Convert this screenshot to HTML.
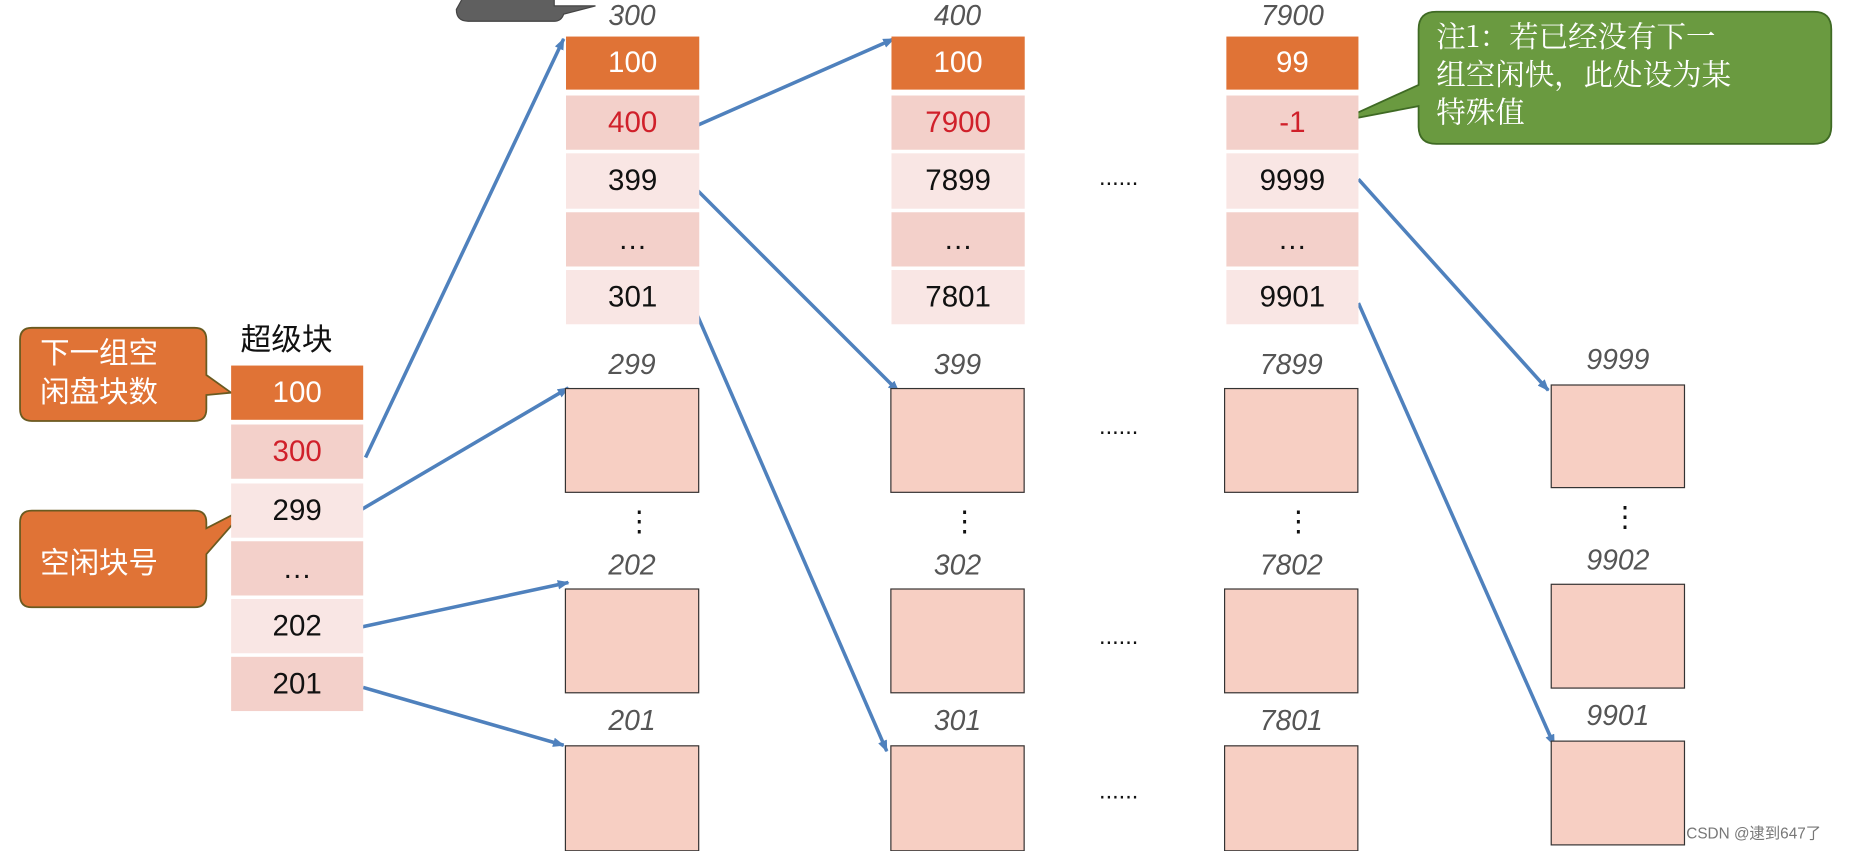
<!DOCTYPE html>
<html><head><meta charset="utf-8"><style>
html,body{margin:0;padding:0;background:#fff;width:1849px;height:849px;overflow:hidden}
#w{position:absolute;left:0;top:0;width:1568px;height:720px;transform:scale(1.1792);transform-origin:0 0;font-family:"Liberation Sans","Noto Sans CJK SC",sans-serif}
.c{position:absolute;display:flex;align-items:center;justify-content:center;font-size:25px;color:#111}
.o{background:#e07336;color:#fff}
.d{background:#f3d0ca}
.l{background:#f9e6e4}
.r{color:#d0202a}
.h{position:absolute;font-style:italic;font-size:24px;color:#555;text-align:center;width:114px}
.b{position:absolute;background:#f7cfc3;border:1.5px solid #333;box-sizing:border-box}
.t{position:absolute;font-size:24px;color:#111}
</style></head><body><div id="w">
<svg width="1568" height="720" style="position:absolute;left:0;top:0">
<defs><marker id="a" markerWidth="10" markerHeight="8" refX="9" refY="4" orient="auto" markerUnits="userSpaceOnUse"><path d="M0,0L10,4L0,8z" fill="#4f81bd"/></marker></defs>
<g stroke="#4f81bd" stroke-width="3" fill="none" marker-end="url(#a)">
<line x1="310" y1="388" x2="478" y2="33"/>
<line x1="305" y1="433" x2="482" y2="329"/>
<line x1="305" y1="532" x2="482" y2="494"/>
<line x1="308" y1="583" x2="478" y2="632"/>
<line x1="592" y1="106" x2="758" y2="33"/>
<line x1="590" y1="160" x2="762" y2="332"/>
<line x1="586" y1="255" x2="752" y2="637"/>
<line x1="1152" y1="152" x2="1313" y2="331"/>
<line x1="1152" y1="257" x2="1318" y2="632"/>
</g>
<path d="M397,-10H470V5L505,5L478,12Q476,18 470,18H397Q387,18 387,8Z" fill="#5f5f5f" stroke="#444"/>
<path d="M27,278H165Q175,278 175,288V318L196,333L175,335V347Q175,357 165,357H27Q17,357 17,347V288Q17,278 27,278Z" fill="#e07336" stroke="#6a5a20" stroke-width="1.5"/>
<path d="M27,433H165Q175,433 175,443V448L210,430L175,470V505Q175,515 165,515H27Q17,515 17,505V443Q17,433 27,433Z" fill="#e07336" stroke="#6a5a20" stroke-width="1.5"/>
<path d="M1218,10H1538Q1553,10 1553,25V107Q1553,122 1538,122H1218Q1203,122 1203,107V90L1135,103L1203,72V25Q1203,10 1218,10Z" fill="#6a9a40" stroke="#3f6a24" stroke-width="1.5"/>
</svg>
<div class="t" style="left:34px;top:284px;color:#fff;line-height:33px;font-size:25px">下一组空<br>闲盘块数</div>
<div class="t" style="left:34px;top:458px;color:#fff;font-size:25px">空闲块号</div>
<div class="t" style="left:1218px;top:14px;color:#fff;line-height:32px;font-size:25px;font-family:'Noto Serif CJK SC','Liberation Serif',serif">注1：若已经没有下一<br>组空闲快，此处设为某<br>特殊值</div>
<div class="t" style="left:204px;top:268px;font-size:26px">超级块</div>

<div class="c o" style="left:196px;top:310px;width:112px;height:46px">100</div>
<div class="c d r" style="left:196px;top:360px;width:112px;height:46px">300</div>
<div class="c l" style="left:196px;top:410px;width:112px;height:46px">299</div>
<div class="c d" style="left:196px;top:459px;width:112px;height:46px">…</div>
<div class="c l" style="left:196px;top:508px;width:112px;height:46px">202</div>
<div class="c d" style="left:196px;top:557px;width:112px;height:46px">201</div>

<div class="h" style="left:479px;top:0px">300</div>
<div class="c o" style="left:480px;top:31px;width:113px;height:45px">100</div>
<div class="c d r" style="left:480px;top:81px;width:113px;height:46px">400</div>
<div class="c l" style="left:480px;top:130px;width:113px;height:47px">399</div>
<div class="c d" style="left:480px;top:180px;width:113px;height:46px">…</div>
<div class="c l" style="left:480px;top:229px;width:113px;height:46px">301</div>

<div class="h" style="left:755px;top:0px">400</div>
<div class="c o" style="left:756px;top:31px;width:113px;height:45px">100</div>
<div class="c d r" style="left:756px;top:81px;width:113px;height:46px">7900</div>
<div class="c l" style="left:756px;top:130px;width:113px;height:47px">7899</div>
<div class="c d" style="left:756px;top:180px;width:113px;height:46px">…</div>
<div class="c l" style="left:756px;top:229px;width:113px;height:46px">7801</div>

<div class="h" style="left:1039px;top:0px">7900</div>
<div class="c o" style="left:1040px;top:31px;width:112px;height:45px">99</div>
<div class="c d r" style="left:1040px;top:81px;width:112px;height:46px">-1</div>
<div class="c l" style="left:1040px;top:130px;width:112px;height:47px">9999</div>
<div class="c d" style="left:1040px;top:180px;width:112px;height:46px">…</div>
<div class="c l" style="left:1040px;top:229px;width:112px;height:46px">9901</div>

<div class="h" style="left:479px;top:296px">299</div><div class="b" style="left:479px;top:329px;width:114px;height:89px"></div>
<div class="t" style="left:530px;top:428px">⋮</div>
<div class="h" style="left:479px;top:466px">202</div><div class="b" style="left:479px;top:499px;width:114px;height:89px"></div>
<div class="h" style="left:479px;top:598px">201</div><div class="b" style="left:479px;top:632px;width:114px;height:90px"></div>

<div class="h" style="left:755px;top:296px">399</div><div class="b" style="left:755px;top:329px;width:114px;height:89px"></div>
<div class="t" style="left:806px;top:428px">⋮</div>
<div class="h" style="left:755px;top:466px">302</div><div class="b" style="left:755px;top:499px;width:114px;height:89px"></div>
<div class="h" style="left:755px;top:598px">301</div><div class="b" style="left:755px;top:632px;width:114px;height:90px"></div>

<div class="h" style="left:1038px;top:296px">7899</div><div class="b" style="left:1038px;top:329px;width:114px;height:89px"></div>
<div class="t" style="left:1089px;top:428px">⋮</div>
<div class="h" style="left:1038px;top:466px">7802</div><div class="b" style="left:1038px;top:499px;width:114px;height:89px"></div>
<div class="h" style="left:1038px;top:598px">7801</div><div class="b" style="left:1038px;top:632px;width:114px;height:90px"></div>

<div class="h" style="left:1315px;top:292px">9999</div><div class="b" style="left:1315px;top:326px;width:114px;height:88px"></div>
<div class="t" style="left:1366px;top:424px">⋮</div>
<div class="h" style="left:1315px;top:462px">9902</div><div class="b" style="left:1315px;top:495px;width:114px;height:89px"></div>
<div class="h" style="left:1315px;top:594px">9901</div><div class="b" style="left:1315px;top:628px;width:114px;height:89px"></div>

<div class="t" style="left:932px;top:140px;font-size:20px">......</div>
<div class="t" style="left:932px;top:351px;font-size:20px">......</div>
<div class="t" style="left:932px;top:529px;font-size:20px">......</div>
<div class="t" style="left:932px;top:660px;font-size:20px">......</div>
<div class="t" style="left:1430px;top:696px;font-size:13px;color:#777">CSDN @逮到647了</div>
</div></body></html>
